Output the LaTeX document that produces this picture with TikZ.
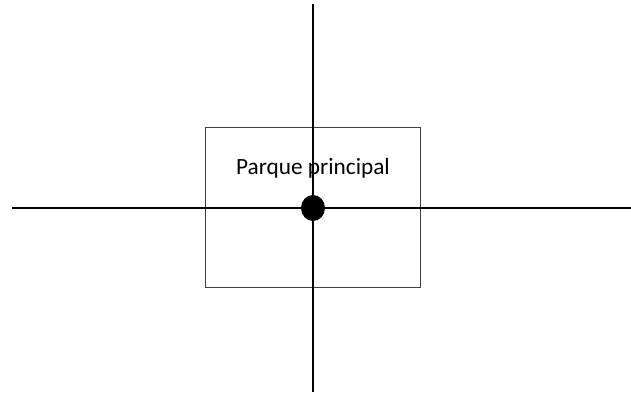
\documentclass[tikz,border=0pt]{standalone}
\usepackage{fontspec}
\setmainfont{Carlito}
\usetikzlibrary{positioning, shapes.geometric}

\begin{document}
\begin{tikzpicture}[x=1pt, y=-1pt]
        \useasboundingbox (0, 0) rectangle (631, 394);
        % Define nodes
        \node[draw=black!75, line width=1pt, minimum width=215pt, minimum height=160pt, inner sep=0pt] (parque) at (312.5, 207.5) {};
        \node[font=\fontsize{23.3}{28}\selectfont, inner sep=0pt] (nombre) at (313, 168) {Parque principal};
        \node[ellipse, fill=black, minimum width=24pt, minimum height=26pt, inner sep=0pt] (centro) at (313, 208) {};
        \coordinate (norte) at (313, 4);
        \coordinate (sur) at (313, 392);
        \coordinate (oeste) at (12, 208);
        \coordinate (este) at (631, 208);

        % Draw lines
        \draw[line width=2.8pt] (norte) -- (centro.north);
        \draw[line width=2.8pt] (centro.south) -- (sur);
        \draw[line width=2.8pt] (oeste) -- (centro.west);
        \draw[line width=2.8pt] (centro.east) -- (este);
    \end{tikzpicture}
\end{document}
